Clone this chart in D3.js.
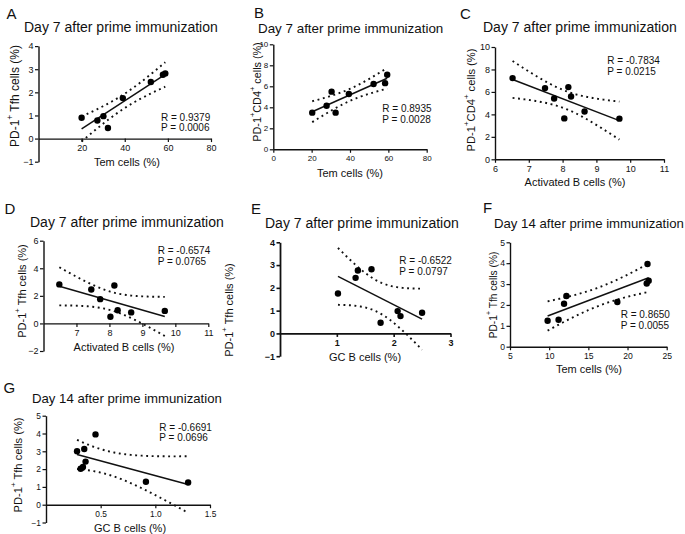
<!DOCTYPE html>
<html><head><meta charset="utf-8">
<script src="https://cdn.jsdelivr.net/npm/d3@7"></script>
<style>
body{margin:0;background:#fff}
svg{display:block}
text{font-family:"Liberation Sans",Arial,sans-serif;fill:#111}
</style>
</head><body>
<svg id="chart" width="685" height="534"></svg>
<script>
// ---------------- data ----------------
const panelLetters = ["A","B","C","D","E","F","G"];
const panelTitles = [
  "Day 7 after prime immunization","Day 7 after prime immunization","Day 7 after prime immunization",
  "Day 7 after prime immunization","Day 7 after prime immunization",
  "Day 14 after prime immunization","Day 14 after prime immunization"];
const xAxisTitles = ["Tem cells (%)","Tem cells (%)","Activated B cells (%)","Activated B cells (%)","GC B cells (%)","Tem cells (%)","GC B cells (%)"];
const yAxisKinds = ["tfh","cd4","cd4","tfh","tfh","tfh","tfh"];
const rLabels = ["R = 0.9379","R = 0.8935","R = -0.7834","R = -0.6574","R = -0.6522","R = 0.8650","R = -0.6691"];
const pLabels = ["P = 0.0006","P = 0.0028","P = 0.0215","P = 0.0765","P = 0.0797","P = 0.0055","P = 0.0696"];
const xDomains = [[0,80],[0,80],[6,11],[6,11],[0,3],[5,25],[0,1.5]];
const yDomains = [[-1,4],[0,10],[0,10],[-2,6],[-1,4],[0,5],[-1,5]];
const xTickValues = [[20,40,60,80],[0,20,40,60,80],[6,7,8,9,10,11],[7,8,9,10,11],[1,2,3],[5,10,15,20,25],[0.5,1.0,1.5]];
const xTickFormats = ["d","d","d","d","d","d",".1f"];
const yTickValues = [[-1,0,1,2,3,4],[0,2,4,6,8,10],[0,2,4,6,8,10],[-2,0,2,4,6],[-1,0,1,2,3,4],[0,1,2,3,4,5],[-1,0,1,2,3,4,5]];

// panel A: Tem vs PD-1+ Tfh (day 7)
const temA = [20.0, 27.3, 30.1, 32.2, 39.1, 52.1, 57.7, 58.8];
const tfhA = [0.90, 0.78, 0.97, 0.46, 1.75, 2.45, 2.76, 2.82];
// panel B: Tem vs PD-1+CD4+ (day 7)
const temB = [20.3, 27.8, 30.4, 32.5, 39.4, 52.3, 58.3, 59.4];
const cd4B = [3.49, 4.15, 5.49, 3.49, 5.27, 6.22, 6.30, 7.10];
// panel C: Activated B vs PD-1+CD4+ (day 7)
const actC = [6.52, 7.48, 7.75, 8.05, 8.17, 8.25, 8.65, 9.68];
const cd4C = [7.23, 6.34, 5.41, 3.64, 6.43, 5.59, 4.25, 3.62];
// panel D: Activated B vs PD-1+ Tfh (day 7)
const actD = [6.48, 7.45, 7.72, 8.03, 8.15, 8.25, 8.66, 9.68];
const tfhD = [2.83, 2.46, 1.76, 0.48, 2.75, 0.96, 0.80, 0.91];
// panel E: GC B vs PD-1+ Tfh (day 7)
const gcE = [1.02, 1.33, 1.37, 1.61, 1.77, 2.07, 2.12, 2.50];
const tfhE = [1.75, 2.44, 2.76, 2.82, 0.47, 0.98, 0.76, 0.91];
// panel F: Tem vs PD-1+ Tfh (day 14)
const temF = [9.8, 11.2, 11.9, 12.2, 18.7, 22.45, 22.7, 22.55];
const tfhF = [1.24, 1.29, 2.06, 2.43, 2.14, 3.03, 3.16, 3.96];
// panel G: GC B vs PD-1+ Tfh (day 14)
const gcG = [0.284, 0.317, 0.338, 0.350, 0.362, 0.453, 0.914, 1.300];
const tfhG = [3.00, 2.02, 2.12, 3.13, 2.42, 3.95, 1.29, 1.25];

const panelX = [temA, temB, actC, actD, gcE, temF, gcG];
const panelY = [tfhA, cd4B, cd4C, tfhD, tfhE, tfhF, tfhG];

// ---------------- layout (positions / sizes) ----------------
const layout = [
  {xr:[38.5,211],  yr:[161.7,46.1], letter:[6.5,18.5],  title:[24,32,14],   xl:[127,166], yl:[15,96,12],   rp:[161,120.8,131.2], tf:9},
  {xr:[273.3,426.7],yr:[149.3,44.3],letter:[254,17.5],  title:[258,33,13.4],xl:[350,177], yl:[256.5,92,10.8],rp:[382.3,111.8,122.8], tf:8},
  {xr:[495,664],   yr:[159.3,47],   letter:[460,18.5],  title:[483,32,14],  xl:[575,186], yl:[471,100,11.2],rp:[607.3,64.2,74.5], tf:9},
  {xr:[43.5,208.3],yr:[351,240.7],  letter:[4.5,213.5], title:[30,227,14],  xl:[124,351], yl:[22,291,11],  rp:[157.7,253.5,264.5], tf:9},
  {xr:[280,450.5], yr:[356.2,242.3],letter:[251,213.5], title:[265,228,14], xl:[365,361], yl:[229,310,11],  rp:[399.3,263.5,274.5], tf:9},
  {xr:[510,666.7], yr:[346.7,242.3],letter:[483,212.5], title:[494,228,13.2],xl:[589,373],yl:[493,295,10.2],rp:[620.7,317.5,328.5], tf:8.6},
  {xr:[46,210],    yr:[522.5,415.7],letter:[3.5,393],   title:[32,403,13.2],xl:[130,532], yl:[18,465,11.2], rp:[159.3,431.2,441.2], tf:8.4}
];

const tCrit = {5:2.5706, 6:2.4469, 7:2.3646, 8:2.3060};

function fit(xs, ys){
  const n = xs.length;
  const mx = d3.mean(xs), my = d3.mean(ys);
  let sxx = 0, sxy = 0;
  xs.forEach((x,i)=>{ sxx += (x-mx)*(x-mx); sxy += (x-mx)*(ys[i]-my); });
  const b = sxy/sxx, a = my - b*mx;
  let sse = 0;
  xs.forEach((x,i)=>{ const r = ys[i]-(a+b*x); sse += r*r; });
  const s = Math.sqrt(sse/(n-2));
  return {a,b,s,n,mx,sxx,t:tCrit[n-2]};
}

const svg = d3.select("#chart");

panelLetters.forEach((L, i) => {
  const lay = layout[i];
  const xs = panelX[i], ys = panelY[i];
  const x = d3.scaleLinear().domain(xDomains[i]).range(lay.xr);
  const y = d3.scaleLinear().domain(yDomains[i]).range(lay.yr);
  const g = svg.append("g");
  const bold = (L === "E");

  g.append("text").attr("x", lay.letter[0]).attr("y", lay.letter[1])
    .attr("font-size", 15).text(L);
  g.append("text").attr("x", lay.title[0]).attr("y", lay.title[1])
    .attr("font-size", lay.title[2]).text(panelTitles[i]);

  const yAx = g.append("g").attr("transform", `translate(${lay.xr[0]},0)`)
    .call(d3.axisLeft(y).tickValues(yTickValues[i]).tickSize(3.5).tickSizeOuter(0).tickPadding(1.5).tickFormat(d3.format("d")));
  const xAx = g.append("g").attr("transform", `translate(0,${y(0)})`)
    .call(d3.axisBottom(x).tickValues(xTickValues[i]).tickSize(3.5).tickSizeOuter(0).tickPadding(2.5).tickFormat(d3.format(xTickFormats[i])));
  [yAx, xAx].forEach(ax => {
    ax.select(".domain").attr("stroke", "#111").attr("stroke-width", bold ? 1.8 : 1.4);
    ax.selectAll(".tick line").attr("stroke", "#111").attr("stroke-width", bold ? 1.6 : 1.2);
    ax.selectAll(".tick text").attr("font-size", lay.tf).attr("fill", "#111")
      .attr("font-family", '"Liberation Sans",Arial,sans-serif')
      .attr("font-weight", bold ? "bold" : "normal");
  });

  g.append("text").attr("x", lay.xl[0]).attr("y", lay.xl[1]).attr("text-anchor", "middle")
    .attr("font-size", 11).text(xAxisTitles[i]);

  const yt = g.append("text")
    .attr("transform", `translate(${lay.yl[0]},${lay.yl[1]}) rotate(-90)`)
    .attr("text-anchor", "middle").attr("dominant-baseline", "central")
    .attr("font-size", lay.yl[2]);
  if (yAxisKinds[i] === "tfh") {
    yt.append("tspan").text("PD-1");
    yt.append("tspan").attr("baseline-shift", "super").attr("font-size", "70%").text("+");
    yt.append("tspan").text(" Tfh cells (%)");
  } else {
    yt.append("tspan").text("PD-1");
    yt.append("tspan").attr("baseline-shift", "super").attr("font-size", "70%").text("+");
    yt.append("tspan").text("CD4");
    yt.append("tspan").attr("baseline-shift", "super").attr("font-size", "70%").text("+");
    yt.append("tspan").text(" cells (%)");
  }

  const f = fit(xs, ys);
  const [xmin, xmax] = d3.extent(xs);
  const samples = d3.range(0, 61).map(k => xmin + (xmax - xmin) * k / 60);
  const half = xv => f.t * f.s * Math.sqrt(1 / f.n + (xv - f.mx) * (xv - f.mx) / f.sxx);
  const line = d3.line().x(d => x(d[0])).y(d => y(d[1]));
  const upper = samples.map(xv => [xv, f.a + f.b * xv + half(xv)]);
  const lower = samples.map(xv => [xv, f.a + f.b * xv - half(xv)]);
  [upper, lower].forEach(band => {
    g.append("path").attr("d", line(band)).attr("fill", "none")
      .attr("stroke", "#111").attr("stroke-width", 1.9).attr("stroke-dasharray", "1.9,3.6");
  });
  g.append("path").attr("d", line([[xmin, f.a + f.b * xmin], [xmax, f.a + f.b * xmax]]))
    .attr("fill", "none").attr("stroke", "#111").attr("stroke-width", 1.5);

  g.selectAll("circle.pt").data(xs.map((xv, k) => [xv, ys[k]])).enter()
    .append("circle").attr("class", "pt")
    .attr("cx", d => x(d[0])).attr("cy", d => y(d[1])).attr("r", 3.2).attr("fill", "#000");

  g.append("text").attr("x", lay.rp[0]).attr("y", lay.rp[1]).attr("font-size", 10).text(rLabels[i]);
  g.append("text").attr("x", lay.rp[0]).attr("y", lay.rp[2]).attr("font-size", 10).text(pLabels[i]);
});
</script>
</body></html>
